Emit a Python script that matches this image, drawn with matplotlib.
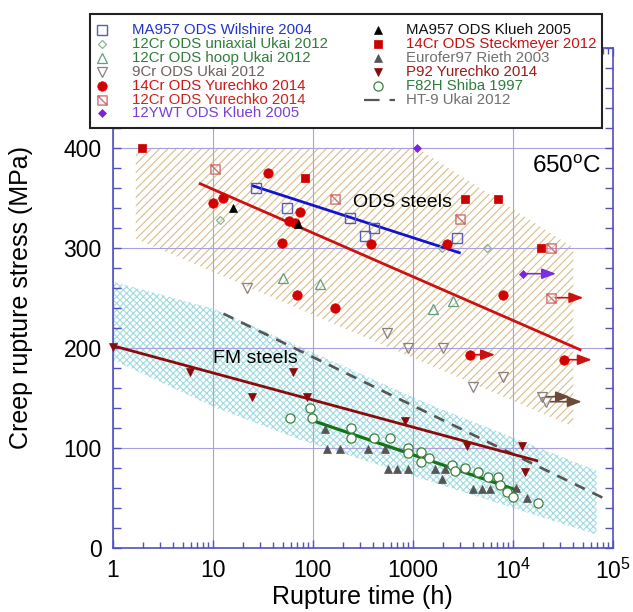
import matplotlib
matplotlib.use('Agg')
import matplotlib.pyplot as plt
from matplotlib.path import Path
from matplotlib.lines import Line2D
from matplotlib.patches import Rectangle
from matplotlib.ticker import FixedLocator, FixedFormatter, MultipleLocator, LogLocator, NullFormatter

plt.rcParams['font.family'] = ['Liberation Sans', 'DejaVu Sans']
plt.rcParams['mathtext.fontset'] = 'custom'
plt.rcParams['mathtext.rm'] = 'Liberation Sans'
plt.rcParams['mathtext.it'] = 'Liberation Sans:italic'
plt.rcParams['mathtext.bf'] = 'Liberation Sans:bold'
plt.rcParams['hatch.linewidth'] = 0.8

# ---------------- data ----------------
xtick_vals = [1, 10, 100, 1000, 1e4, 1e5]
xtick_labels = ['1', '10', '100', '1000', '$10^4$', '$10^5$']
ytick_vals = [0, 100, 200, 300, 400]

wil_t = [27, 55, 236, 333, 413, 2790]
wil_s = [360, 340, 330, 312, 320, 310]

uni_t = [11.8, 1950, 5500]
uni_s = [328, 300, 300]

hoop_t = [50, 117, 1607, 2547]
hoop_s = [270, 264, 239, 247]

cr9_t = [21.9, 557, 891, 1995, 4036, 8050, 19500, 21500]
cr9_s = [260, 215, 200, 200, 161, 171, 151, 146]
cr9_run_t = [19500, 21500]
cr9_run_s = [151, 146]
cr9_run_end = [37400, 49000]

y14_t = [10, 12.6, 36, 49, 58.3, 66.5, 75.5, 69.7, 167, 380, 2200, 7940, 3740, 32800]
y14_s = [345, 350, 375, 305, 327, 325, 336, 253, 240, 304, 304, 253, 193, 188]
y14_run_t = [3740, 32800]
y14_run_s = [193, 188]
y14_run_end = [6650, 61700]

y12_t = [10.5, 167, 2970, 24200, 24200]
y12_s = [379, 349, 329, 300, 250]
y12_run_t = [24200]
y12_run_s = [250]
y12_run_end = [50800]

ywt_t = [1096, 12800]
ywt_s = [400, 274]
ywt_run_t = [12800]
ywt_run_s = [274]
ywt_run_end = [27100]

klueh_t = [15.8, 70.8]
klueh_s = [340, 324]

steck_t = [1.95, 82.8, 3330, 7180, 19100]
steck_s = [400, 370, 349, 349, 300]

euro_t = [133, 138, 188, 360, 528, 570, 692, 891, 1671, 2104, 1977, 3981, 4898, 5930, 10800, 14000]
euro_s = [119, 99, 99, 99, 99, 79, 79, 79, 79, 79, 69, 59, 59, 59, 60, 50]

p92_t = [1, 5.9, 24.9, 64, 88.3, 838, 3467, 12300, 13300]
p92_s = [201, 176, 151, 176, 151, 127, 102, 102, 76]

f82_t = [59, 94, 99.5, 240, 240, 410, 593, 904, 904, 1200, 1200, 1450, 2455, 2650, 3334,
         4470, 5700, 7180, 7460, 8670, 10100, 18000]
f82_s = [130, 140, 130, 120, 110, 110, 110, 100, 95, 96, 86, 90, 83, 77, 80,
         76, 71, 71, 63, 56, 51, 45]

# fit lines
blue_line_t = [25, 2925]
blue_line_s = [362, 295]
red_line_t = [7.5, 47100]
red_line_s = [364, 198]
p92_line_t = [1, 17400]
p92_line_s = [202, 87]
f82_line_t = [94, 11400]
f82_line_s = [128, 57]
ht9_t = [12.8, 79400]
ht9_s = [234, 50]

# bands
ods_band_t = [1.7, 1096, 40400, 40400, 1.7]
ods_band_s = [400, 400, 300, 121, 309]
fm_band_t = [1, 10.1, 74.6, 1490, 69200, 69200, 74.6, 10.1, 1]
fm_band_s = [266, 239, 201, 143, 77, 13, 108, 141, 188]

# legend
leg_col1 = ['MA957 ODS Wilshire 2004', '12Cr ODS uniaxial Ukai 2012', '12Cr ODS hoop Ukai 2012',
            '9Cr ODS Ukai 2012', '14Cr ODS Yurechko 2014', '12Cr ODS Yurechko 2014',
            '12YWT ODS Klueh 2005']
leg_col2 = ['MA957 ODS Klueh 2005', '14Cr ODS Steckmeyer 2012', 'Eurofer97 Rieth 2003',
            'P92 Yurechko 2014', 'F82H Shiba 1997', 'HT-9 Ukai 2012']

# ---------------- styles ----------------
c_wil = '#5a5ab8'
c_uni = '#8cb496'
c_hoop = '#5f9e7e'
c_9cr = '#8a7e7e'
c_y14 = '#d40000'
c_y12 = '#d07070'
c_ywt = '#7b22e0'
c_klueh = '#000000'
c_steck = '#cc0000'
c_euro = '#555555'
c_p92 = '#8b0a0a'
c_f82 = '#3c8040'
c_ht9 = '#555555'
spine_c = '#5050c0'
grid_c = '#aaa0dc'

leg_col1_tc = ['#2233cc', '#2e7d3a', '#2e7d3a', '#6e6060', '#d01515', '#cc2222', '#7a3dd6']
leg_col2_tc = ['#111111', '#cc1111', '#707070', '#9b1b1b', '#2e7d3a', '#707070']

boxdiag = Path([(-1, -1), (1, -1), (1, 1), (-1, 1), (-1, -1), (-1, 1), (1, -1)],
               [Path.MOVETO, Path.LINETO, Path.LINETO, Path.LINETO, Path.CLOSEPOLY,
                Path.MOVETO, Path.LINETO])

styles = {
    'wil': dict(marker='s', ms=6.6, mfc='none', mec=c_wil, mew=1.0),
    'uni': dict(marker='D', ms=4.2, mfc='none', mec=c_uni, mew=0.9),
    'hoop': dict(marker='^', ms=6.6, mfc='none', mec=c_hoop, mew=0.9),
    '9cr': dict(marker='v', ms=6.6, mfc='none', mec=c_9cr, mew=0.9),
    'y14': dict(marker='o', ms=6.8, mfc=c_y14, mec=c_y14, mew=0.5),
    'y12': dict(marker=boxdiag, ms=6.6, mfc='none', mec=c_y12, mew=1.0),
    'ywt': dict(marker='D', ms=4.0, mfc=c_ywt, mec=c_ywt, mew=0.5),
    'klueh': dict(marker='^', ms=6.2, mfc=c_klueh, mec=c_klueh, mew=0.5),
    'steck': dict(marker='s', ms=6.2, mfc=c_steck, mec=c_steck, mew=0.5),
    'euro': dict(marker='^', ms=6.4, mfc=c_euro, mec=c_euro, mew=0.5),
    'p92': dict(marker='v', ms=6.4, mfc=c_p92, mec=c_p92, mew=0.5),
    'f82': dict(marker='o', ms=6.6, mfc='white', mec=c_f82, mew=0.9),
}

W, H = 633, 612
fig = plt.figure(figsize=(W / 100, H / 100), dpi=100)
ax = fig.add_axes([112.7 / W, 1 - 547.7 / H, 500 / W, 500 / H])
ax.set_xscale('log')
ax.set_xlim(1, 1e5)
ax.set_ylim(0, 500)

# bands
ax.fill(ods_band_t, ods_band_s, facecolor='none', edgecolor='#d8bd88', hatch='////', lw=0, zorder=0.5)
ax.fill(fm_band_t, fm_band_s, facecolor='none', edgecolor='#9fdbe1', hatch='xxxxx', lw=0, zorder=0.5)

# fit lines
ax.plot(ht9_t, ht9_s, color=c_ht9, lw=1.9, ls=(0, (4.2, 3.2)), zorder=2)
ax.plot(blue_line_t, blue_line_s, color='#1414cc', lw=2.0, zorder=2.2)
ax.plot(red_line_t, red_line_s, color='#cc1111', lw=2.0, zorder=2.2)
ax.plot(p92_line_t, p92_line_s, color='#8b0a0a', lw=2.0, zorder=2.2)
ax.plot(f82_line_t, f82_line_s, color='#147314', lw=2.3, zorder=2.2)

# arrows (run-outs)
def arrows(ts, ss, ends, color):
    for t, s, e in zip(ts, ss, ends):
        ax.annotate('', xy=(e, s), xytext=(t, s),
                    arrowprops=dict(arrowstyle='-|>,head_length=0.85,head_width=0.32',
                                    color=color, lw=1.2, shrinkA=3, shrinkB=0),
                    zorder=2.5)

arrows(cr9_run_t, cr9_run_s, cr9_run_end, '#6b4a3a')
arrows(y14_run_t, y14_run_s, y14_run_end, '#cc1111')
arrows(y12_run_t, y12_run_s, y12_run_end, '#cc1111')
arrows(ywt_run_t, ywt_run_s, ywt_run_end, '#7a30e0')

# markers
series = [('wil', wil_t, wil_s), ('uni', uni_t, uni_s), ('hoop', hoop_t, hoop_s),
          ('9cr', cr9_t, cr9_s), ('y12', y12_t, y12_s), ('steck', steck_t, steck_s),
          ('y14', y14_t, y14_s), ('ywt', ywt_t, ywt_s), ('klueh', klueh_t, klueh_s),
          ('euro', euro_t, euro_s), ('p92', p92_t, p92_s), ('f82', f82_t, f82_s)]
for key, t, s in series:
    ax.plot(t, s, ls='none', zorder=3, clip_on=False, **styles[key])

# text
ax.text(0.579, 0.691, 'ODS steels', transform=ax.transAxes, fontsize=14, ha='center', va='center', zorder=4)
ax.text(0.286, 0.379, 'FM steels', transform=ax.transAxes, fontsize=14, ha='center', va='center', zorder=4)
ax.text(0.907, 0.761, '650$^{\\mathrm{o}}$C', transform=ax.transAxes, fontsize=17.5, ha='center', va='center', zorder=4)

# axes styling
ax.xaxis.set_major_locator(FixedLocator(xtick_vals))
ax.xaxis.set_major_formatter(FixedFormatter(xtick_labels))
ax.xaxis.set_minor_locator(LogLocator(base=10, subs=range(2, 10)))
ax.xaxis.set_minor_formatter(NullFormatter())
ax.yaxis.set_major_locator(FixedLocator(ytick_vals))
ax.yaxis.set_minor_locator(MultipleLocator(20))
ax.tick_params(which='both', direction='in', top=True, right=True, color=spine_c, width=1.0)
ax.tick_params(which='major', length=6, labelsize=16.5, pad=8)
ax.tick_params(axis='x', which='minor', length=4.5)
ax.tick_params(axis='y', which='minor', length=5.5)
for sp in ax.spines.values():
    sp.set_color(spine_c)
    sp.set_linewidth(1.2)
ax.set_axisbelow('line')
ax.grid(which='major', color=grid_c, lw=0.8)

ax.set_xlabel('Rupture time (h)', fontsize=18)
ax.set_ylabel('Creep rupture stress (MPa)', fontsize=18)
ax.xaxis.set_label_coords(0.5, -0.075)
ax.yaxis.set_label_coords(-0.159, 0.5)

# manual legend box (figure pixel coordinates)
def fx(x):
    return x / W

def fy(y):
    return 1 - y / H

box = Rectangle((fx(90), fy(128)), fx(602) - fx(90), fy(14) - fy(128), transform=fig.transFigure,
                facecolor='white', edgecolor='#222222', lw=1.5, zorder=10)
fig.add_artist(box)

col1_keys = ['wil', 'uni', 'hoop', '9cr', 'y14', 'y12', 'ywt']
col2_keys = ['klueh', 'steck', 'euro', 'p92', 'f82', None]
row_y = [30 + 13.9 * i for i in range(7)]

for i, (lab, key, tc) in enumerate(zip(leg_col1, col1_keys, leg_col1_tc)):
    fig.add_artist(Line2D([fx(101.7)], [fy(row_y[i])], transform=fig.transFigure, ls='none',
                          zorder=11, **styles[key]))
    fig.text(fx(131.7), fy(row_y[i]), lab, color=tc, fontsize=10.8, ha='left', va='center', zorder=11)

for i, (lab, key, tc) in enumerate(zip(leg_col2, col2_keys, leg_col2_tc)):
    if key is None:
        fig.add_artist(Line2D([fx(364), fx(395)], [fy(row_y[i]), fy(row_y[i])], transform=fig.transFigure,
                              color=c_ht9, lw=1.6, ls=(0, (7, 4.5)), zorder=11))
    else:
        fig.add_artist(Line2D([fx(378)], [fy(row_y[i])], transform=fig.transFigure, ls='none',
                              zorder=11, **styles[key]))
    fig.text(fx(406), fy(row_y[i]), lab, color=tc, fontsize=10.8, ha='left', va='center', zorder=11)

fig.savefig('out.png', dpi=100)
